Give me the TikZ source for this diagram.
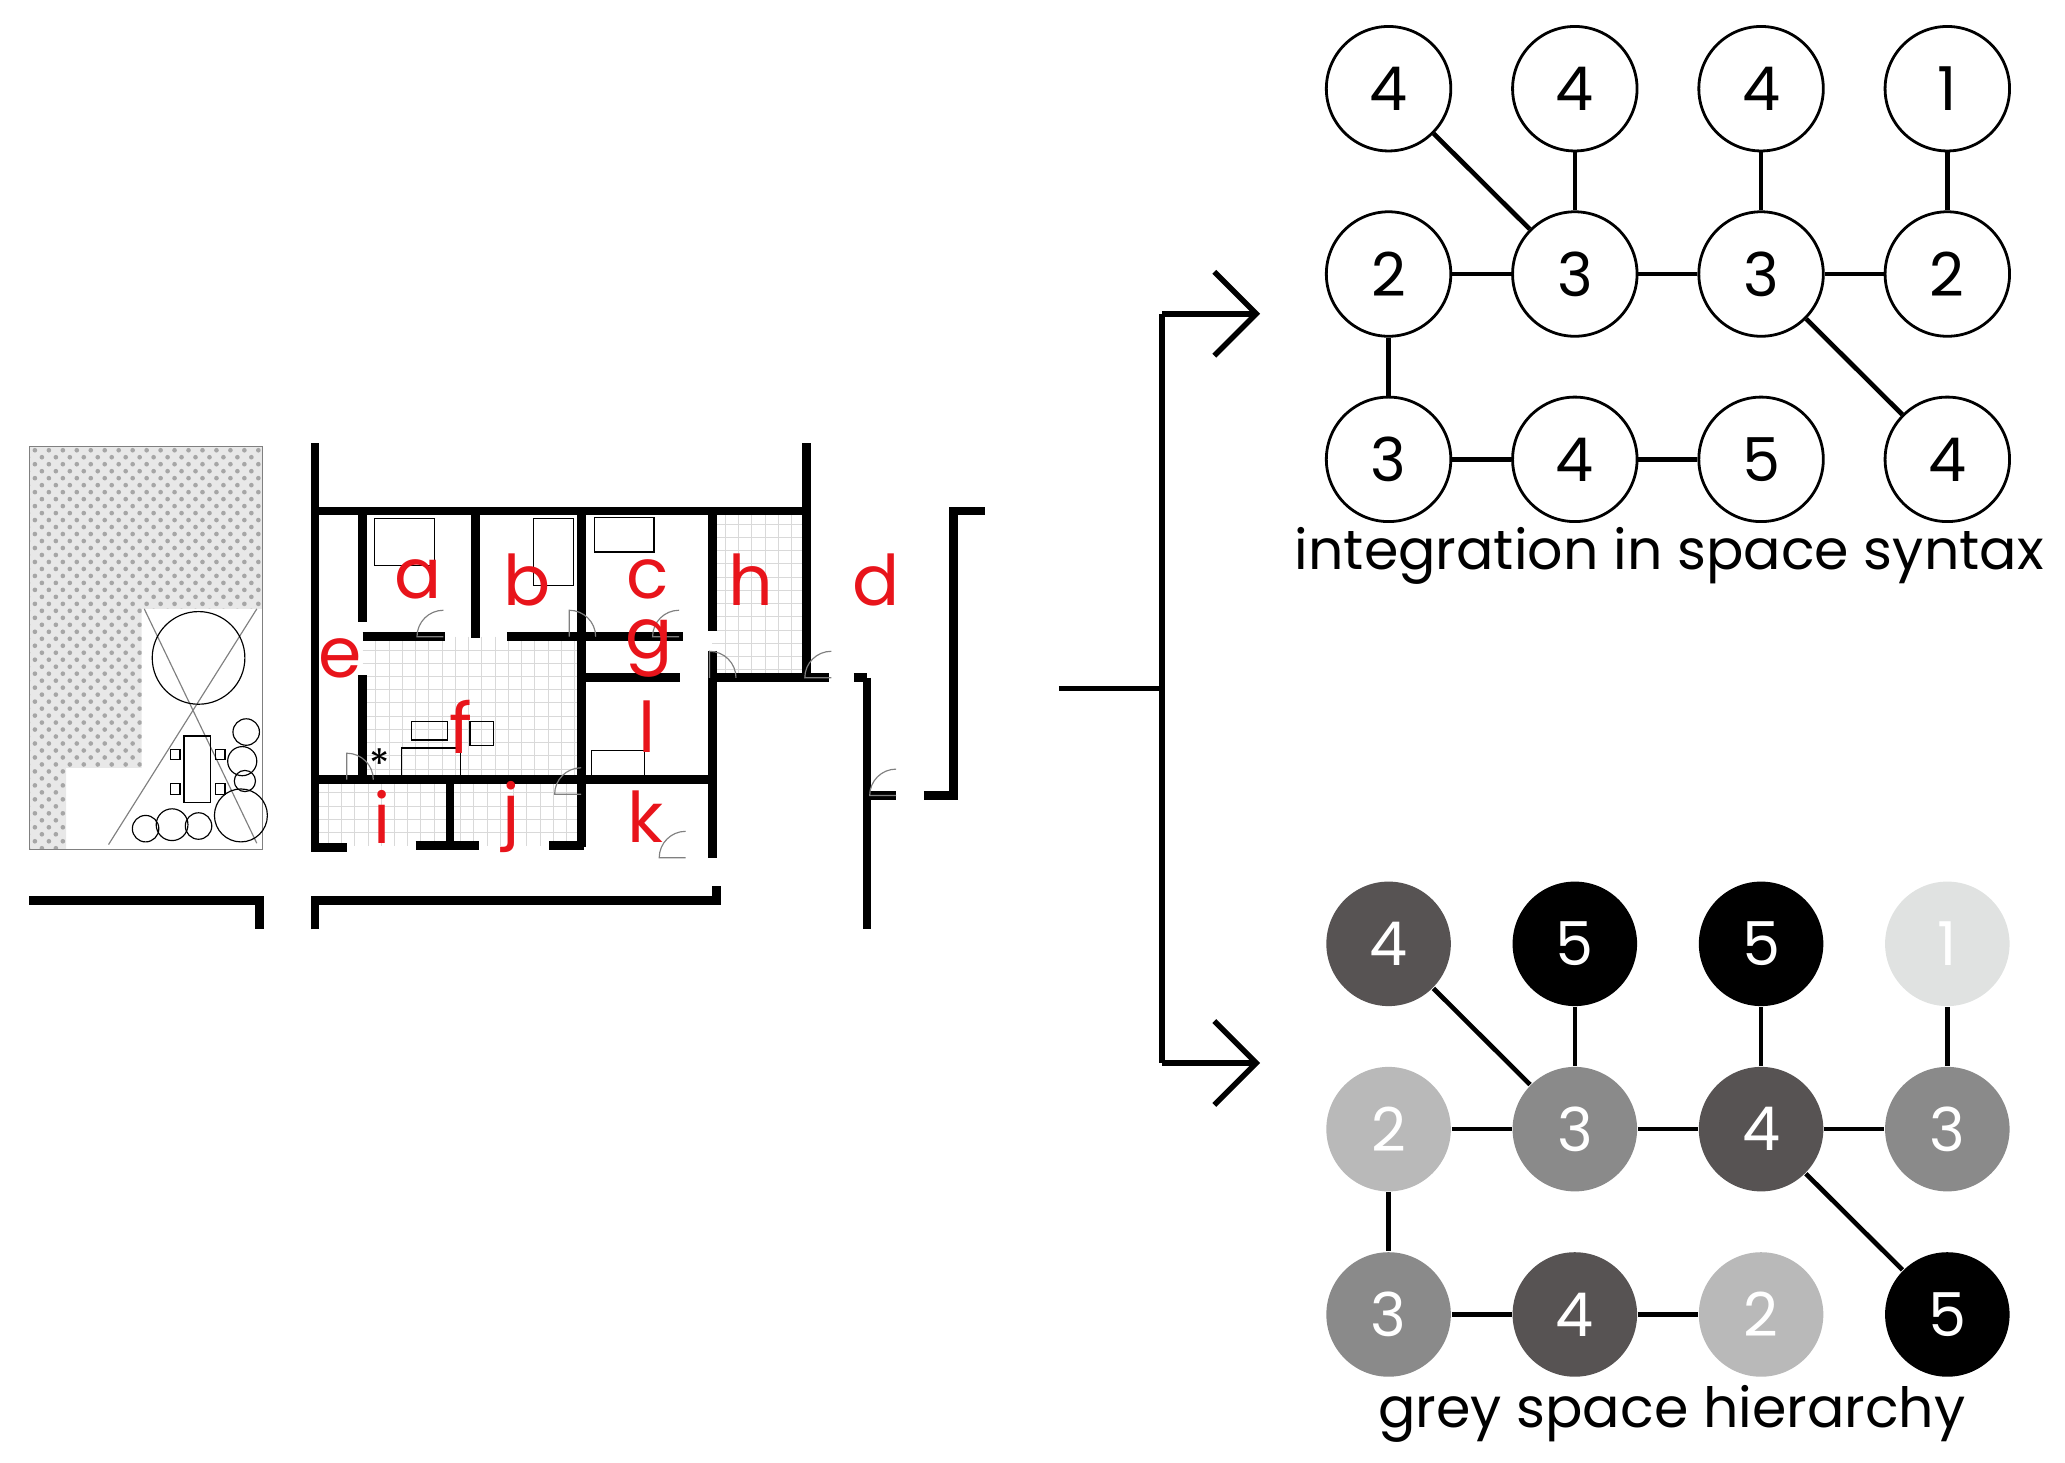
\documentclass[tikz,border=0pt]{standalone}
\usepackage{fontspec}
\setmainfont{Poppins}
\usetikzlibrary{arrows.meta,patterns}

\definecolor{lvlA}{HTML}{E0E2E1}
\definecolor{lvlB}{HTML}{B9B9B9}
\definecolor{lvlC}{HTML}{8A8A8A}
\definecolor{lvlD}{HTML}{575353}
\definecolor{lvlE}{HTML}{000000}
\definecolor{roomred}{HTML}{E8141B}

\tikzset{
  wall/.style={line width=1.9pt},
  thin/.style={line width=0.25pt, gray},
  tile/.style={gray!30, line width=0.2pt},
  room/.style={text=roomred, font=\fontsize{15}{15}\selectfont},
  space/.style={circle, draw, line width=0.6pt, minimum size=0.94cm, inner sep=0pt, font=\fontsize{13}{13}\selectfont},
  level/.style={circle, minimum size=0.94cm, inner sep=0pt, text=white, font=\fontsize{13}{13}\selectfont},
  link/.style={line width=1pt},
  bracket/.style={line width=1.2pt},
  caption/.style={font=\fontsize{11.9}{11.9}\selectfont},
}

\begin{document}
\begin{tikzpicture}[x=0.01cm, y=-0.01cm]
            \useasboundingbox (0, 0) rectangle (1560, 1105);
            % patio and garden
            \fill[gray!18] (22, 337) rectangle (198, 460);
            \fill[pattern=crosshatch dots, pattern color=gray!70] (22, 337) rectangle (198, 460);
            \fill[gray!18] (22, 460) rectangle (107, 580) (22, 580) rectangle (50, 642);
            \fill[pattern=crosshatch dots, pattern color=gray!70] (22, 460) rectangle (107, 580) (22, 580) rectangle (50, 642);
            \draw[thin] (22, 337) rectangle (198, 642);
            \draw[thin] (109, 460) -- (194, 637) (194, 460) -- (82, 638);
            \draw[thin, black] (150, 497) circle (35);
            \draw[thin, black] (139, 556) rectangle (159, 606);
            \foreach \yy in {566, 592} {
                \draw[thin, black] (129, \yy) rectangle (136, \yy + 8);
                \draw[thin, black] (163, \yy) rectangle (170, \yy + 8);
            }
            \foreach \cx/\cy/\r in {186/553/10, 183/575/11, 182/616/20, 110/626/10, 130/623/12, 150/624/10, 185/590/8} {
                \draw[thin, black] (\cx, \cy) circle (\r);
            }
            % tiled floors
            \foreach \xx in {284, 294, ..., 434} \draw[tile] (\xx, 481) -- (\xx, 589);
            \foreach \yy in {491, 501, ..., 581} \draw[tile] (274, \yy) -- (439, \yy);
            \foreach \xx in {548, 558, ..., 600} \draw[tile] (\xx, 386) -- (\xx, 512);
            \foreach \yy in {396, 406, ..., 506} \draw[tile] (538, \yy) -- (609, \yy);
            \foreach \xx in {248, 258, ..., 434} \draw[tile] (\xx, 589) -- (\xx, 639);
            \foreach \yy in {599, 609, ..., 631} \draw[tile] (238, \yy) -- (439, \yy);
            % furniture
            \foreach \bx/\by/\bw/\bh in {283/392/45/35, 403/392/30/50, 449/391/45/26, 447/567/40/20, 311/545/27/14, 355/545/18/18, 303/565/45/22} {
                \draw[thin, black] (\bx, \by) rectangle (\bx + \bw, \by + \bh);
            }
            \node[font=\small] (star) at (287, 577) {*};
            % walls
            \draw[wall] (238, 335) -- (238, 640) -- (262, 640);
            \draw[wall] (238, 386) -- (609, 386) (609, 335) -- (609, 511);
            \draw[wall] (274, 386) -- (274, 470) (274, 510) -- (274, 589);
            \draw[wall] (359, 386) -- (359, 482) (439, 386) -- (439, 640) (538, 386) -- (538, 477) (538, 492) -- (538, 642);
            \draw[wall] (274, 481) -- (336, 481) (383, 481) -- (516, 481);
            \draw[wall] (439, 512) -- (514, 512) (538, 512) -- (626, 512) (645, 512) -- (655, 512);
            \draw[wall] (238, 589) -- (538, 589);
            \draw[wall] (340, 589) -- (340, 639) (314, 639) -- (362, 639) (415, 639) -- (441, 639);
            \draw[wall] (655, 512) -- (655, 702) (655, 601) -- (677, 601) (698, 601) -- (720, 601) -- (720, 386) -- (744, 386);
            \draw[wall] (22, 680) -- (196, 680) -- (196, 702);
            \draw[wall] (238, 702) -- (238, 680) -- (541, 680) -- (541, 669) (538, 642) -- (538, 648);
            % doors
            \foreach \dx/\dy/\a in {335/481/0, 513/481/0, 430/481/90, 536/512/90, 628/512/0, 677/601/0, 518/648/0, 262/589/90, 439/600/0} {
                \draw[thin] (\dx, \dy) -- ++(\a:-20) arc[start angle=\a+180, end angle=\a+270, radius=20];
            }
            % room labels
            \node[room] (ra) at (316, 438) {a};
            \node[room] (rb) at (398, 438) {b};
            \node[room] (rc) at (489, 438) {c};
            \node[room] (rh) at (567, 438) {h};
            \node[room] (rd) at (662, 438) {d};
            \node[room] (re) at (257, 497) {e};
            \node[room] (rg) at (490, 490) {g};
            \node[room] (rf) at (348, 549) {f};
            \node[room] (rl) at (489, 549) {l};
            \node[room] (ri) at (289, 617) {i};
            \node[room] (rj) at (386, 617) {j};
            \node[room] (rk) at (488, 617) {k};
            % branching arrows
            \coordinate (src) at (800, 520);
            \coordinate (fork) at (878, 520);
            \coordinate (up) at (878, 237);
            \coordinate (down) at (878, 803);
            \coordinate (upend) at (952, 237);
            \coordinate (downend) at (952, 803);
            \draw[bracket] (src) -- (fork);
            \draw[bracket] (up) -- (down);
            \draw[bracket, -{Straight Barb[length=9pt, width=18pt, line width=1.2pt]}] (up) -- (upend);
            \draw[bracket, -{Straight Barb[length=9pt, width=18pt, line width=1.2pt]}] (down) -- (downend);
            % integration graph
            \foreach \lbl [count=\i from 0] in {4,4,4,1,2,3,3,2,3,4,5,4} {
                \pgfmathtruncatemacro{\row}{div(\i, 4)}
                \pgfmathtruncatemacro{\col}{mod(\i, 4)}
                \node[space] (t-\row-\col) at (1049 + 140.7*\col, 67 + 140*\row) {\lbl};
            }
            % grey space graph
            \foreach \lbl/\shade [count=\i from 0] in {4/lvlD,5/lvlE,5/lvlE,1/lvlA,2/lvlB,3/lvlC,4/lvlD,3/lvlC,3/lvlC,4/lvlD,2/lvlB,5/lvlE} {
                \pgfmathtruncatemacro{\row}{div(\i, 4)}
                \pgfmathtruncatemacro{\col}{mod(\i, 4)}
                \node[level, fill=\shade] (g-\row-\col) at (1049 + 140.7*\col, 713 + 140*\row) {\lbl};
            }
            \foreach \gr in {t, g} {
                \draw[link] (\gr-0-0) -- (\gr-1-1);
                \draw[link] (\gr-0-1) -- (\gr-1-1);
                \draw[link] (\gr-0-2) -- (\gr-1-2);
                \draw[link] (\gr-0-3) -- (\gr-1-3);
                \draw[link] (\gr-1-0) -- (\gr-1-1);
                \draw[link] (\gr-1-1) -- (\gr-1-2);
                \draw[link] (\gr-1-2) -- (\gr-1-3);
                \draw[link] (\gr-1-0) -- (\gr-2-0);
                \draw[link] (\gr-1-2) -- (\gr-2-3);
                \draw[link] (\gr-2-0) -- (\gr-2-1);
                \draw[link] (\gr-2-1) -- (\gr-2-2);
            }
            \node[caption] (captop) at (1261, 420) {integration in space syntax};
            \node[caption] (capbot) at (1263, 1068) {grey space hierarchy};
        \end{tikzpicture}
\end{document}
